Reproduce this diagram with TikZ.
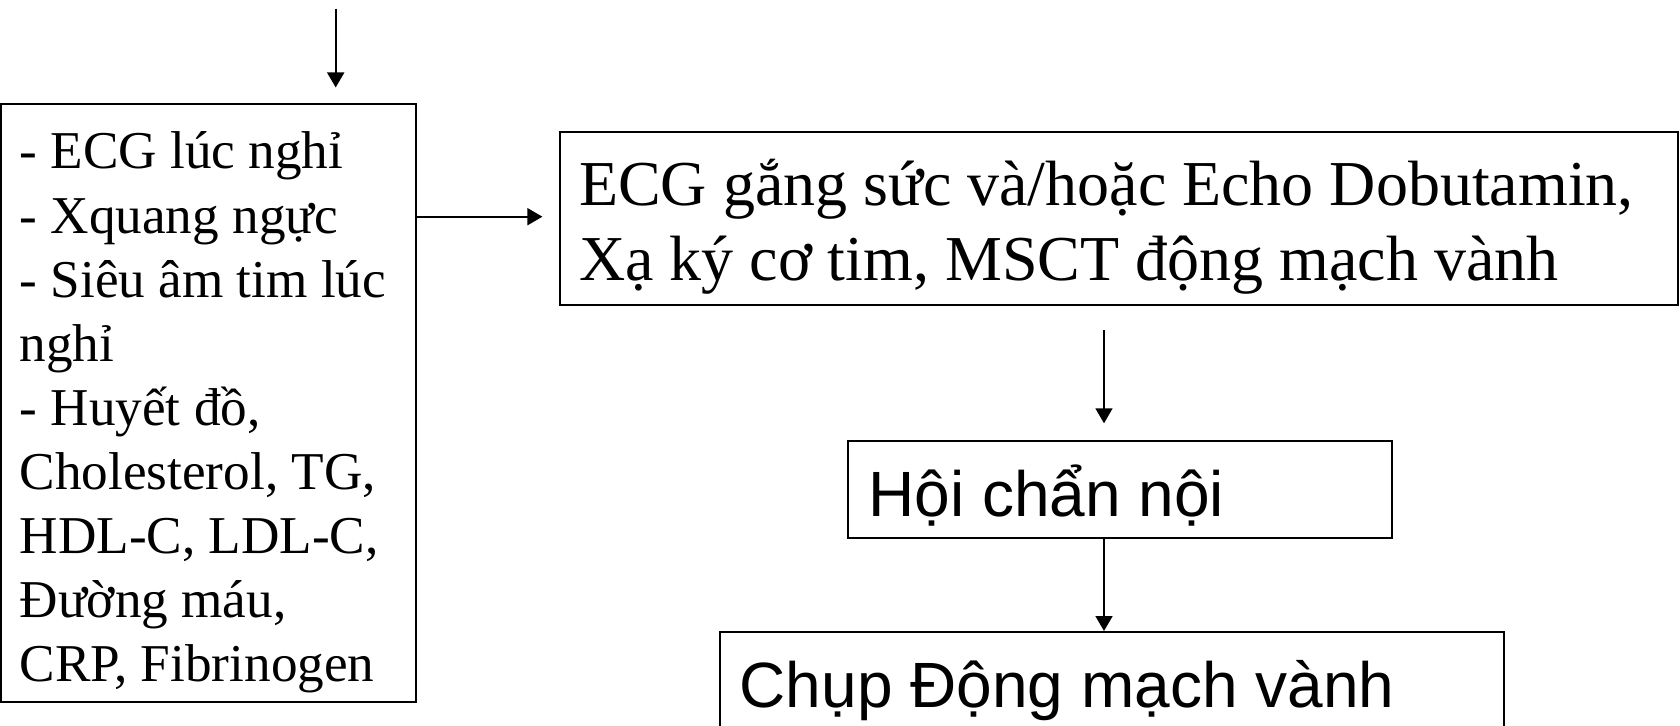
\documentclass[tikz,border=0pt]{standalone}
\usepackage{fontspec}
\setmainfont{Liberation Serif}
\setsansfont{Liberation Sans}
\usetikzlibrary{arrows.meta,fit}
\begin{document}
\begin{tikzpicture}[x=0.5pt,y=-0.5pt,
  frame/.style={draw=black,line width=1pt,inner sep=0pt},
  link/.style={draw=black,line width=0.85pt,-{Triangle[length=7.5pt,width=8.5pt]}},
  listtext/.style={inner sep=0pt,anchor=base west,align=left,
    font=\fontsize{26.6pt}{32pt}\selectfont},
  serifbig/.style={inner sep=0pt,anchor=base west,align=left,
    font=\fontsize{32pt}{37.5pt}\selectfont},
  sansbig/.style={inner sep=0pt,anchor=base west,
    font=\sffamily\fontsize{32pt}{38pt}\selectfont}]
\useasboundingbox (0,0) rectangle (1680,726);
\clip (0,0) rectangle (1680,726);

% boxes
\node[frame,fit={(1,104.5) (415.7,701.8)}] (tests) {};
\node[frame,fit={(560,131.8) (1677.8,305.4)}] (stress) {};
\node[frame,fit={(847.5,440.7) (1391.8,537.9)}] (consult) {};
\node[frame,fit={(720,632) (1504.3,800)}] (angio) {};

% texts (anchored at the baseline of the last line)
\node[listtext] (teststxt) at (19.3,681) {- ECG lúc nghỉ\\- Xquang ngực\\- Siêu âm tim lúc\\nghỉ\\- Huyết đồ,\\Cholesterol, TG,\\HDL-C, LDL-C,\\Đường máu,\\CRP, Fibrinogen};
\node[serifbig] (stresstxt) at (578.6,280.7) {ECG gắng sức và/hoặc Echo Dobutamin,\\Xạ ký cơ tim, MSCT động mạch vành};
\node[sansbig] (consulttxt) at (867.9,516.4) {Hội chẩn nội};
\node[sansbig] (angiotxt) at (739.3,707) {Chụp Động mạch vành};

% connectors
\coordinate (entry) at (335.7,8.6);
\coordinate (axis) at (1104,0);
\draw[link,shorten >=8pt] (entry) -- (entry |- tests.north);
\draw[link,shorten >=8.3pt] (tests.east |- 0,216.7) -- (stress.west |- 0,216.7);
\draw[link,shorten <=12pt,shorten >=8.2pt] (stress.south -| axis) -- (consult.north -| axis);
\draw[link] (consult.south -| axis) -- (angio.north -| axis);
\end{tikzpicture}
\end{document}
